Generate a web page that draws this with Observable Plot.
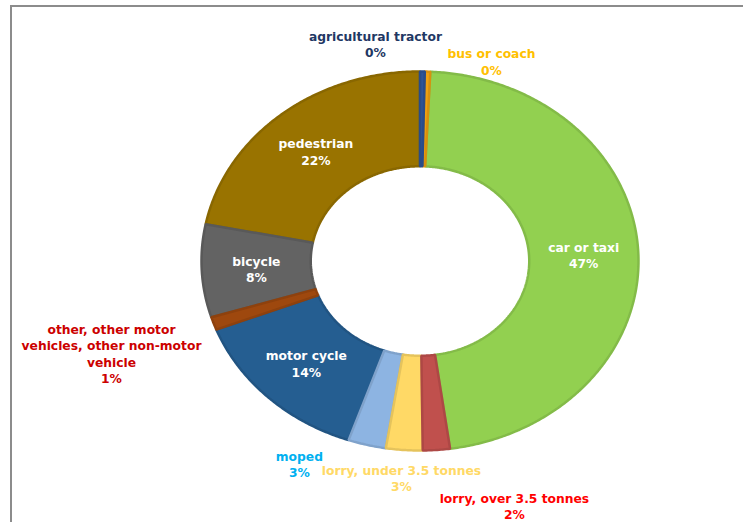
<!DOCTYPE html>
<html><head><meta charset="utf-8">
<script src="https://cdn.jsdelivr.net/npm/d3@7"></script>
<script src="https://cdn.jsdelivr.net/npm/@observablehq/plot@0.6"></script>
<style>
body{margin:0;background:#fff;}
#wrap{position:relative;width:743px;height:522px;overflow:hidden;}
#frame{position:absolute;left:10px;top:5px;width:800px;height:600px;border-left:2px solid #8c8c8c;border-top:2px solid #8c8c8c;}
#chart{position:absolute;left:0;top:0;}
</style></head><body>
<div id="wrap"><div id="frame"></div><div id="chart"></div></div>
<script>
// categories in clockwise order starting at 12 o'clock
const categories = ["agricultural tractor","bus or coach","car or taxi","lorry, over 3.5 tonnes","lorry, under 3.5 tonnes","moped","motor cycle","other, other motor vehicles, other non-motor vehicle","bicycle","pedestrian"];
const displayNames = ["agricultural tractor","bus or coach","car or taxi","lorry, over 3.5 tonnes","lorry, under 3.5 tonnes","moped","motor cycle","other, other motor\nvehicles, other non-motor\nvehicle","bicycle","pedestrian"];
const values = [0.35, 0.4, 47.05, 2.0, 2.7, 2.8, 13.8, 1.1, 7.9, 21.9];
const fillColors = ["#2f5597","#f0a010","#92d050","#c0504d","#ffd966","#8db4e2","#255e91","#9e480e","#636363","#997300"];
const labelColors = ["#1f3864","#ffc000","#ffffff","#ff0000","#ffd966","#00b0f0","#ffffff","#cc0000","#ffffff","#ffffff"];
// outside label anchors (data units, ring outer radius = 1); null = inside the slice
const outsideLabelPos = [[-0.204,1.147],[0.327,1.055],null,[0.432,-1.29],[-0.085,-1.145],[-0.552,-1.071],null,[-1.412,-0.487],null,null];

const innerR = 0.5, outerR = 1, labelR = 0.75;
const data = categories.map((c,i)=>({cat:c, name:displayNames[i], value:values[i], fill:fillColors[i], stroke:d3.color(fillColors[i]).darker(0.3).formatHex(), label:labelColors[i]}));
const arcs = d3.pie().sort(null).value(d=>d.value)(data);

// draw large slices first so thin slices stay visible on top
const drawOrder = arcs.slice().sort((a,b)=>b.data.value-a.data.value);
const ringPts = [];
drawOrder.forEach(a=>{
  const span = a.endAngle - a.startAngle;
  const n = Math.max(2, Math.ceil(span/(Math.PI/360)));
  for(let k=0;k<=n;k++){const t=a.startAngle+span*k/n; ringPts.push({cat:a.data.cat, fill:a.data.fill, stroke:a.data.stroke, x:outerR*Math.sin(t), y:outerR*Math.cos(t)});}
  for(let k=n;k>=0;k--){const t=a.startAngle+span*k/n; ringPts.push({cat:a.data.cat, fill:a.data.fill, stroke:a.data.stroke, x:innerR*Math.sin(t), y:innerR*Math.cos(t)});}
});

const labelPts = arcs.map((a,i)=>{
  const m=(a.startAngle+a.endAngle)/2;
  const p = outsideLabelPos[i];
  return {text: a.data.name + "\n" + Math.round(a.data.value) + "%", color:a.data.label,
    x: p ? p[0] : labelR*Math.sin(m), y: p ? p[1] : labelR*Math.cos(m)};
});

const chart = Plot.plot({
  width:743, height:522,
  marginLeft:201, marginRight:105, marginTop:71, marginBottom:72,
  x:{domain:[-1,1], axis:null},
  y:{domain:[-1,1], axis:null},
  color:{type:"identity"},
  style:{background:"transparent"},
  marks:[
    Plot.line(ringPts, {x:"x", y:"y", z:"cat", fill:"fill", stroke:"stroke", strokeWidth:2.5, curve:"linear-closed", strokeLinejoin:"miter"}),
    Plot.text(labelPts, {x:"x", y:"y", text:"text", fill:"color", fontSize:12.3, fontWeight:"bold", fontFamily:"DejaVu Sans", lineHeight:1.34})
  ]
});
document.getElementById("chart").appendChild(chart);
</script>
</body></html>
